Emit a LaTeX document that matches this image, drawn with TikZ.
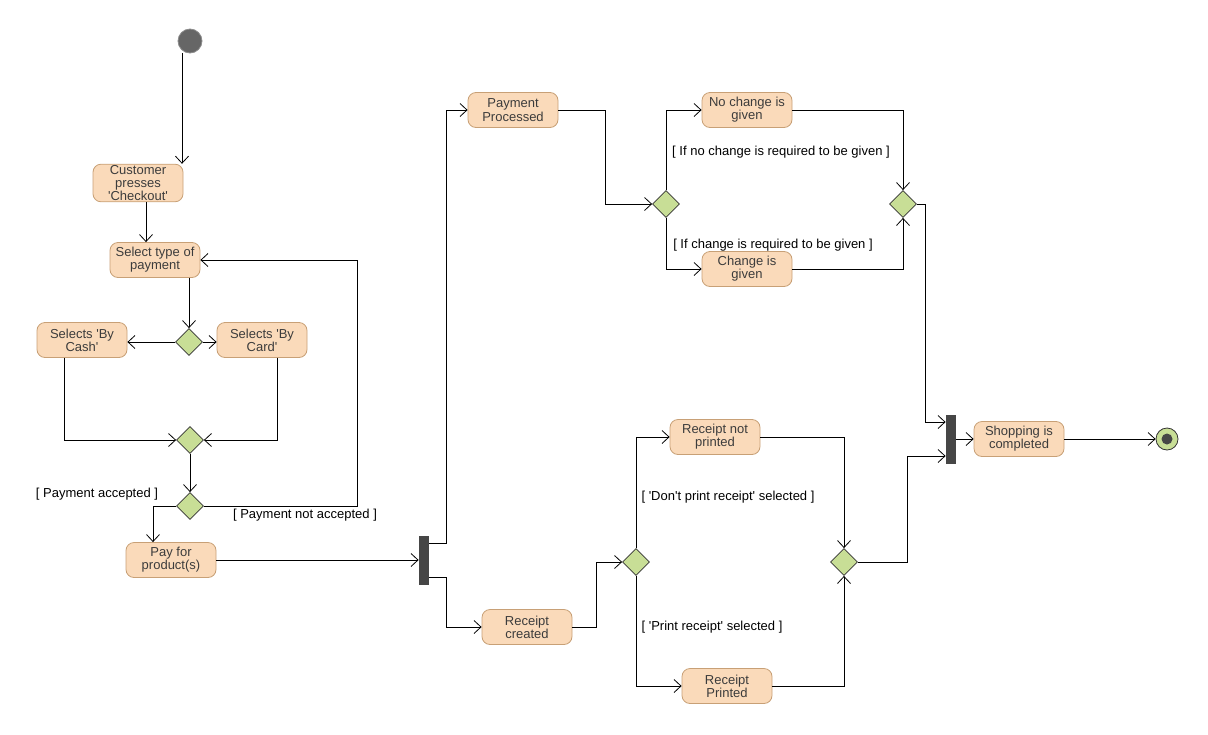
\documentclass[tikz,border=0pt]{standalone}
\usepackage{fontspec}
\setmainfont{Liberation Sans}
\usetikzlibrary{arrows.meta,positioning,shapes.geometric,calc}
\definecolor{boxfill}{RGB}{250,218,186}
\definecolor{boxline}{RGB}{200,160,118}
\definecolor{decfill}{RGB}{200,222,150}
\definecolor{barfill}{RGB}{70,70,70}
\definecolor{txt}{RGB}{60,60,60}
\newcommand{\q}{\textquotesingle}

\begin{document}
\begin{tikzpicture}[x=1pt,y=-1pt,
  font=\fontsize{13}{13.2}\selectfont,
  act/.style={draw=boxline,fill=boxfill,rounded corners=8pt,minimum width=90pt,minimum height=35pt,align=center,inner sep=1pt,text=txt},
  dec/.style={draw=black!80,diamond,fill=decfill,minimum size=27pt,inner sep=0pt},
  bar/.style={fill=barfill,minimum width=10pt,minimum height=49pt,inner sep=0pt},
  guard/.style={text=black,inner sep=1pt},
  arr/.style={-{Straight Barb[length=7pt,width=13pt]},line width=0.8pt},
  line width=0.8pt]
\useasboundingbox (0,0) rectangle (1208,734);
% start and end
\node[circle,fill=black!60,draw=black!45,minimum size=24pt,inner sep=0pt] (start) at (190,41) {};
\node[circle,fill=decfill,draw=black!80,minimum size=22pt,inner sep=0pt] (stop) at (1167,439) {};
\fill[barfill] (stop) circle (5.5pt);
% payment choice
\node[act] (cust) at (138,183) {Customer\\presses\\\q Checkout\q};
\node[act] (sel) at (155,260) {Select type of\\payment};
\node[dec] (d1) at (189,342) {};
\node[act] (cash) at (82,340) {Selects \q By\\Cash\q};
\node[act] (card) at (262,340) {Selects \q By\\Card\q};
\node[dec] (d2) at (190,440) {};
\node[dec] (d3) at (190,506) {};
\node[act] (pay) at (171,560) {Pay for\\product(s)};
\node[guard] (ok) at (97,494) {[ Payment accepted ]};
\node[guard] (notok) at (305,515) {[ Payment not accepted ]};
% fork
\node[bar] (fork1) at (424,560) {};
\node[act] (pp) at (513,110) {Payment\\Processed};
\node[dec] (d4) at (666,204) {};
\node[act] (nc) at (747,110) {No change is\\given};
\node[act] (cg) at (747,269) {Change is\\given};
\node[guard] (nolbl) at (781,152) {[ If no change is required to be given ]};
\node[guard] (cglbl) at (773,245) {[ If change is required to be given ]};
\node[dec] (d5) at (903,204) {};
\node[act] (rc) at (527,627) {Receipt\\created};
\node[dec] (d7) at (636,562) {};
\node[act] (rnp) at (715,437) {Receipt not\\printed};
\node[act] (rp) at (727,686) {Receipt\\Printed};
\node[guard] (rnplbl) at (728,497) {[ \q Don\q t print receipt\q{} selected ]};
\node[guard] (rplbl) at (712,627) {[ \q Print receipt\q{} selected ]};
\node[dec] (d6) at (844,562) {};
% join
\node[bar] (fork2) at (951,439) {};
\node[act] (shop) at (1019,439) {Shopping is\\completed};

\draw[arr] ([xshift=-8pt]start.south) -- ([xshift=-8pt]start.south |- cust.north);
\draw[arr] ([xshift=8pt]cust.south) -- ([xshift=8pt]cust.south |- sel.north);
\draw[arr] (sel.south -| d1) -- (d1.north);
\draw[arr] (d1.west) -- (d1.west -| cash.east);
\draw[arr] (d1.east) -- (d1.east -| card.west);
\draw[arr] ([xshift=-18pt]cash.south) |- (d2.west);
\draw[arr] ([xshift=15pt]card.south) |- (d2.east);
\draw[arr] (d2.south) -- (d3.north);
\draw[arr] (d3.west) -| ([xshift=-18pt]pay.north);
\draw[arr] (d3.east) -| ([xshift=157pt]sel.east) -- (sel.east);
\draw[arr] (pay.east) -- (fork1.west);
\draw[arr] ([yshift=17pt]fork1.east) -- ++(17,0) |- (pp.west);
\draw[arr] ([yshift=-17pt]fork1.east) -- ++(17,0) |- (rc.west);
\draw[arr] (pp.east) -- ++(47,0) |- (d4.west);
\draw[arr] (d4.north) |- (nc.west);
\draw[arr] (d4.south) |- (cg.west);
\draw[arr] (nc.east) -| (d5.north);
\draw[arr] (cg.east) -| (d5.south);
\draw[arr] (d5.east) -- ++(8,0) |- ([yshift=17pt]fork2.west);
\draw[arr] (rc.east) -- ++(24,0) |- (d7.west);
\draw[arr] (d7.north) |- (rnp.west);
\draw[arr] (d7.south) |- (rp.west);
\draw[arr] (rnp.east) -| (d6.north);
\draw[arr] (rp.east) -| (d6.south);
\draw[arr] (d6.east) -- ++(49,0) |- ([yshift=-17pt]fork2.west);
\draw[arr] (fork2.east) -- (shop.west);
\draw[arr] (shop.east) -- (stop.west);
\end{tikzpicture}
\end{document}
